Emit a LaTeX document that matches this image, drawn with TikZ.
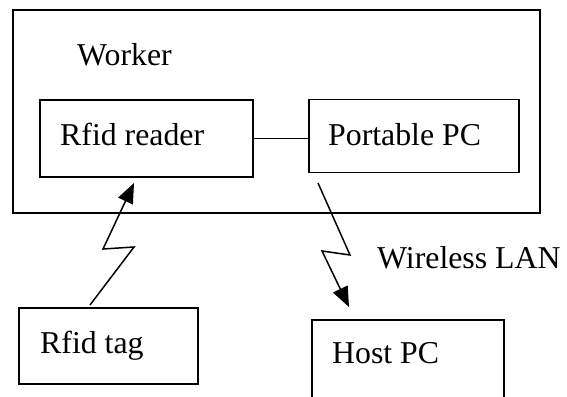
\documentclass[tikz,border=0pt]{standalone}
\usepackage{fontspec}
\setmainfont{Liberation Serif}
\usetikzlibrary{arrows.meta}
\begin{document}
\begin{tikzpicture}[x=1pt,y=-1pt,
  boxline/.style={draw=black,line width=1.5pt,inner sep=0pt,outer sep=0pt},
  lbl/.style={anchor=base west,inner sep=0pt,font=\fontsize{31.8}{36}\selectfont},
  zig/.style={line width=1.5pt,-{Triangle[length=20pt,width=16pt]}}]
\useasboundingbox (0,0) rectangle (567,396);
\clip (0,0) rectangle (567,396);
% boxes
\node[boxline,minimum width=527pt,minimum height=203pt] (worker) at (276.5,111.5) {};
\node[boxline,minimum width=213pt,minimum height=77pt] (reader) at (146.5,138.5) {};
\node[boxline,minimum width=210pt,minimum height=73pt] (pc) at (414,136) {};
\node[boxline,minimum width=179pt,minimum height=76pt] (tag) at (108.5,346) {};
\node[boxline,minimum width=192pt,minimum height=120pt] (host) at (408,380) {};
% texts
\node[lbl] (tworker) at (77,65) {Worker};
\node[lbl] (treader) at (60,145) {Rfid reader};
\node[lbl] (tpc) at (328,145) {Portable PC};
\node[lbl] (ttag) at (40,353) {Rfid tag};
\node[lbl] (thost) at (332,363) {Host PC};
\node[lbl] (twlan) at (377,268) {Wireless LAN};
% link
\draw[line width=1.5pt] (reader.east) -- (reader.east -| pc.west);
% zigzag arrows
\coordinate (a0) at (90,305);
\coordinate (a1) at (134,247);
\coordinate (a2) at (103,249);
\coordinate (a3) at (134,183);
\draw[zig] (a0) -- (a1) -- (a2) -- (a3);
\coordinate (b0) at (318,183);
\coordinate (b1) at (350,255);
\coordinate (b2) at (322,251);
\coordinate (b3) at (349,307);
\draw[zig] (b0) -- (b1) -- (b2) -- (b3);
\end{tikzpicture}
\end{document}
